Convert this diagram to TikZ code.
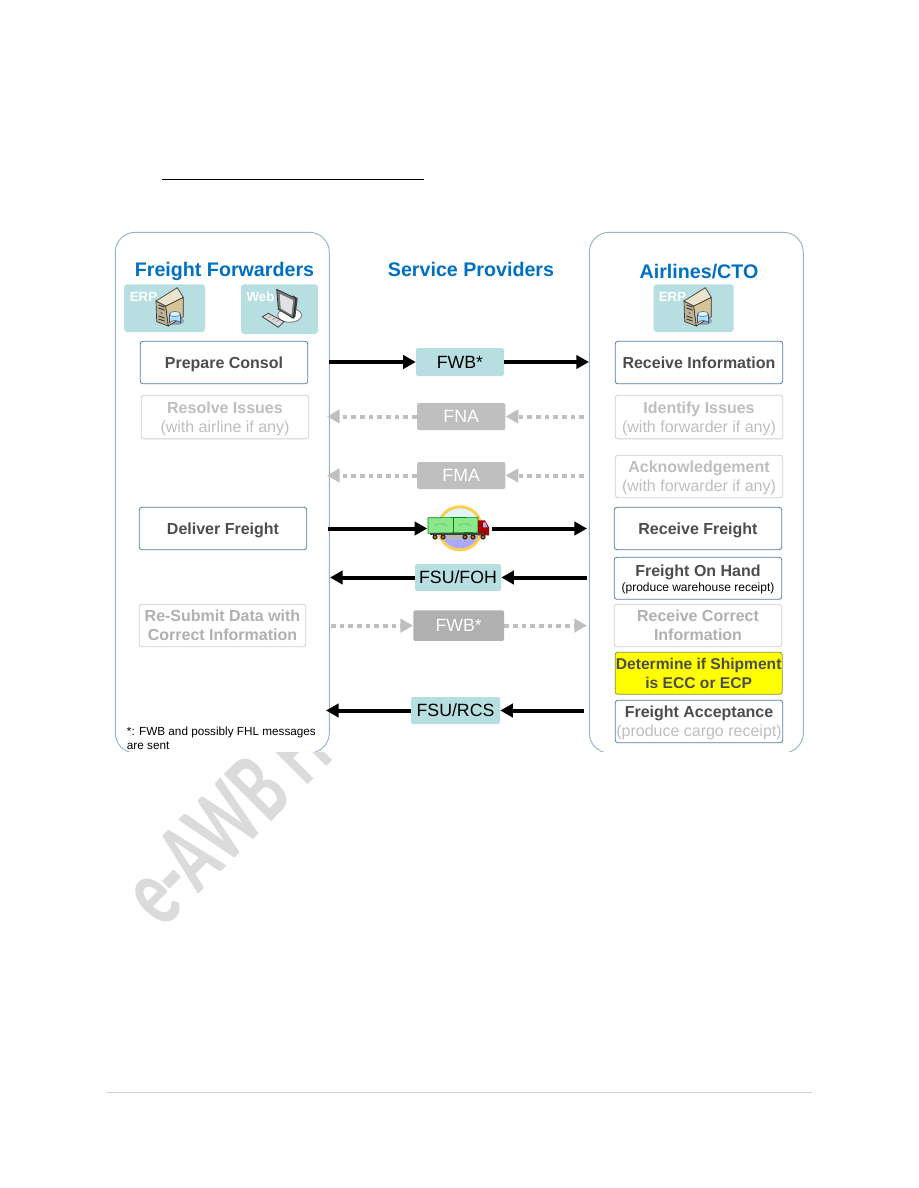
\documentclass[tikz,border=0pt]{standalone}
\usepackage{fontspec}
\setmainfont{Liberation Sans}
\newfontfamily\wmfont{Carlito}
\usetikzlibrary{arrows.meta}
\newlength{\pxlength}
\setlength{\pxlength}{0.75pt}
\definecolor{HeadBlue}{RGB}{0,112,192}
\definecolor{MsgTeal}{RGB}{183,223,226}
\definecolor{MsgGrey}{RGB}{191,191,191}
\definecolor{MsgDark}{RGB}{176,176,176}
\definecolor{BoxEdge}{RGB}{84,125,165}
\definecolor{BoxText}{RGB}{77,77,77}
\definecolor{OffEdge}{RGB}{208,208,208}
\definecolor{OffText}{RGB}{190,190,190}
\definecolor{PanelEdge}{RGB}{150,178,205}
\definecolor{HiYellow}{RGB}{255,255,0}
\definecolor{SrvTop}{RGB}{236,228,205}
\definecolor{SrvSide}{RGB}{214,196,150}
\definecolor{SrvFront}{RGB}{190,178,150}
\definecolor{TrkGreen}{RGB}{140,232,140}
\newcommand{\subtext}[1]{{\fontsize{12pt}{14.25pt}\selectfont\mdseries #1}}
\tikzset{
  pics/erpicon/.style={code={
    \fill[black!25!MsgTeal] (20,20) ellipse (8 and 4);
    \draw[black!80,fill=SrvFront,line width=0.5pt] (0,0) -- (9.7,5) -- (12.3,25) -- (0.7,20.7) -- cycle;
    \draw[black!80,fill=SrvSide,line width=0.5pt] (9.7,5) -- (27.3,-3.7) -- (27.3,15.7) -- (12.3,25) -- cycle;
    \draw[black!80,fill=SrvTop,line width=0.5pt] (0,0) -- (21.3,-13.3) -- (27.3,-3.7) -- (9.7,5) -- cycle;
    \foreach \y in {5,8,16,19} {
      \draw[black!75,line width=0.8pt] (2.5,\y-1) -- (8.5,\y+1);
    }
    \fill[black!70] (5.5,12) circle (0.9);
    \draw[blue!40!black!70,fill=blue!30!cyan!35,line width=0.4pt] (13.5,13) -- (13.5,22) arc[start angle=180,end angle=360,x radius=5.5,y radius=2.5] -- (24.5,13);
    \draw[blue!40!black!70,fill=blue!10!cyan!15,line width=0.4pt] (19,13) ellipse (5.5 and 2.5);
  }},
  pics/webicon/.style={code={
    \draw[black!50,fill=white,line width=0.7pt] (13,26) ellipse (12 and 7);
    \fill[black!75] (16,6) -- (21,9) -- (18.6,28) -- (15,29) -- cycle;
    \draw[black!85,fill=black!55,line width=0.5pt] (0,0) -- (19,9) -- (16.6,29) -- (1.6,20) -- cycle;
    \fill[blue!20!black!12] (3,4.5) -- (16.5,11) -- (14.8,25.5) -- (4,19) -- cycle;
    \draw[black!75,fill=black!15,line width=0.6pt] (-14.4,27.4) -- (-8.4,24) -- (7.3,32.4) -- (1.6,38) -- cycle;
    \foreach \t in {0.25,0.5,0.75} {
      \draw[black!45,line width=0.3pt] (-12.4+\t*15.7,26.3+\t*8.4) -- (-9.4+\t*15.7,24.6+\t*8.4);
    }
  }},
  pics/truckicon/.style={code={
    \fill[yellow!50!orange!70] (0,0) circle (23);
    \fill[cyan!12] (0,0) circle (20);
    \begin{scope}
      \clip (0,0) circle (20);
      \fill[black!28] (-20,5) rectangle (20,12);
      \fill[blue!40!white!85] (-20,12) rectangle (20,20);
    \end{scope}
    \fill[TrkGreen,draw=green!55!black,line width=0.5pt] (-32,-10.5) -- (18,-11) -- (18,4) -- (-32,5) -- cycle;
    \draw[green!55!black,line width=0.4pt] (-7,-10.7) -- (-7,4.5);
    \draw[green!60!black!70,line width=0.3pt] (-26,-2) arc[start angle=200,end angle=340,x radius=7,y radius=4];
    \draw[green!60!black!70,line width=0.3pt] (-2,-2) arc[start angle=200,end angle=340,x radius=7,y radius=4];
    \fill[red!65!black] (18,-8) -- (25,-8) -- (29,-1) -- (29,7) -- (18,7) -- cycle;
    \fill[blue!30!white] (23,-6) -- (25.5,-6) -- (27.5,-1) -- (23,-1) -- cycle;
    \fill[black!75] (-30,5) rectangle (24,7);
    \foreach \x in {-25,-17,5,13,23} {
      \fill[black!85] (\x,8.7) circle (2.6);
      \fill[orange!85!black] (\x,8.7) circle (1.3);
    }
  }},
  headtxt/.style={text=HeadBlue,font=\fontsize{14.75pt}{18pt}\selectfont\bfseries,inner sep=0pt,anchor=base},
  bxOn/.style n args={2}{draw=BoxEdge,fill=white,text=BoxText,line width=0.6pt,rounded corners=2.5\pxlength,
    minimum width=#1\pxlength,minimum height=#2\pxlength,inner sep=0pt,align=center,text depth=2.5pt,
    execute at begin node={\rule{0pt}{11pt}},font=\fontsize{12pt}{14.25pt}\selectfont\bfseries},
  bxOff/.style n args={2}{bxOn={#1}{#2},draw=OffEdge,text=OffText,text depth=0.3pt},
  msgOn/.style n args={2}{fill=MsgTeal,text=black,rounded corners=2\pxlength,minimum width=#1\pxlength,
    minimum height=#2\pxlength,inner sep=0pt,font=\fontsize{13.3pt}{16pt}\selectfont},
  msgOff/.style n args={2}{msgOn={#1}{#2},fill=MsgGrey,text=white},
  flowOn/.style={-{Triangle[length=9.5pt,width=10pt]},line width=3pt,black},
  flowOff/.style={-{Triangle[length=9.5pt,width=10pt]},line width=3pt,MsgGrey,
    dash pattern=on 3.5pt off 3pt},
  lane/.style={draw=PanelEdge,line width=0.7pt,rounded corners=20\pxlength},
  tile/.style={fill=MsgTeal,rounded corners=3\pxlength},
  tiletxt/.style={text=white,font=\fontsize{10pt}{12pt}\selectfont\bfseries,inner sep=0pt},
}
\begin{document}
\begin{tikzpicture}[x=1\pxlength,y=-1\pxlength]
    \useasboundingbox (0,0) rectangle (918,1188);
    % watermark sits under the figure
    \node[rotate=45,xscale=0.65,anchor=base west,text=black!14,inner sep=0pt,font=\wmfont\bfseries\fontsize{77pt}{80pt}\selectfont] (mark) at (162,931) {e-AWB Ha};
    \fill[white] (105,225) rectangle (812,752);
    \draw[line width=1.5\pxlength] (162,179.5) coordinate (ulA) -- (424,179.5) coordinate (ulB);
    \draw[black!18,line width=1\pxlength] (106,1092.3) coordinate (ftA) -- (812,1092.3) coordinate (ftB);
    % lanes
    \begin{scope}
       \clip (100,225) rectangle (815,751.8);
       \draw[lane] (115.3,232.3) rectangle (329.3,753);
       \draw[lane] (589.3,232.3) rectangle (803.3,753);
    \end{scope}
    \node[headtxt] (hFF) at (224.5,276.7) {Freight Forwarders};
    \node[headtxt] (hSP) at (471,276.7) {Service Providers};
    \node[headtxt] (hAL) at (699,278.3) {Airlines/CTO};
    % systems
    \fill[tile] (124,284.3) rectangle (205,332);
    \fill[tile] (241,284.3) rectangle (318,334);
    \fill[tile] (653.7,284.3) rectangle (733.7,332);
    \node[tiletxt] (erpA) at (143.5,297) {ERP};
    \node[tiletxt] (webA) at (260.5,297) {Web};
    \node[tiletxt] (erpB) at (672.5,297) {ERP};
    \pic at (156,301) {erpicon};
    \pic at (276.7,289.3) {webicon};
    \pic at (684,301) {erpicon};
    % forwarder side
    \node[bxOn={167.4}{42.4}] (prep) at (224,362.5) {Prepare Consol};
    \node[bxOff={167.4}{43.7}] (reso) at (225,417) {Resolve Issues\\\subtext{(with airline if any)}};
    \node[bxOn={167.4}{42.4}] (dlvr) at (223,528.5) {Deliver Freight};
    \node[bxOff={166.4}{42.4},text=MsgDark] (rsub) at (222.5,625.5) {Re-Submit Data with\\Correct Information};
    \node[anchor=north west,inner sep=0pt,align=left,font=\fontsize{8.8pt}{10.5pt}\selectfont] (note) at (126.7,727) {*: FWB and possibly FHL messages\\are sent};
    % airline side
    \node[bxOn={167.4}{42.4}] (rinf) at (699,362.5) {Receive Information};
    \node[bxOff={167.4}{43.7}] (iden) at (699,417) {Identify Issues\\\subtext{(with forwarder if any)}};
    \node[bxOff={167.4}{42.4}] (ackn) at (699,476.5) {Acknowledgement\\\subtext{(with forwarder if any)}};
    \node[bxOn={167.4}{42.4}] (rfrt) at (698,528.5) {Receive Freight};
    \node[bxOn={167.4}{42},text depth=-1.2pt] (hand) at (698,578.3) {Freight On Hand\\[-3pt]{\fontsize{9pt}{11pt}\selectfont\mdseries\color{black}(produce warehouse receipt)}};
    \node[bxOff={167.4}{42.4},text=MsgDark] (rcor) at (698,625.5) {Receive Correct\\Information};
    \node[bxOn={167}{42},fill=HiYellow,draw=black!35!HiYellow!60!BoxEdge,text depth=0.3pt,font=\fontsize{11.7pt}{14.25pt}\selectfont\bfseries] (ecc) at (698.7,673.3) {Determine if Shipment\\is ECC or ECP};
    \node[bxOn={167.4}{42.4},text depth=1pt] (acpt) at (699,721.5) {Freight Acceptance\\\subtext{\color{OffText}(produce cargo receipt)}};
    % messages
    \node[msgOn={87.7}{28}] (fwb) at (459.9,362) {FWB*};
    \node[msgOff={88.3}{27}] (fna) at (461.2,416.5) {FNA};
    \node[msgOff={88.3}{27}] (fma) at (461.2,475.5) {FMA};
    \node[minimum width=64\pxlength,minimum height=46\pxlength,inner sep=0pt] (truck) at (459.5,528.5) {};
    \pic at (460,528.3) {truckicon};
    \node[msgOn={86}{27}] (foh) at (458,577.5) {FSU/FOH};
    \node[msgOff={90.7}{30.7},fill=MsgDark] (fwbb) at (458.7,625.6) {FWB*};
    \node[msgOn={89}{27}] (rcs) at (455.5,710.5) {FSU/RCS};
    % free ends on the lanes
    \coordinate (pA) at (329,362);   \coordinate (aA) at (589,362);
    \coordinate (pB) at (327,416.5); \coordinate (aB) at (584,416.5);
    \coordinate (pC) at (327,475.5); \coordinate (aC) at (584,475.5);
    \coordinate (pD) at (328,528.5); \coordinate (aD) at (587,528.5);
    \coordinate (pE) at (330,577.5); \coordinate (aE) at (587,577.5);
    \coordinate (pF) at (331,625.6); \coordinate (aF) at (587,625.6);
    \coordinate (pG) at (326,710.5); \coordinate (aG) at (584,710.5);
    \foreach \a/\b in {pA/fwb.west,fwb.east/aA,pD/truck.west,truck.east/aD,aE/foh.east,foh.west/pE,aG/rcs.east,rcs.west/pG} {
       \draw[flowOn] (\a) -- (\b);
    }
    \foreach \a/\b in {aB/fna.east,fna.west/pB,aC/fma.east,fma.west/pC,pF/fwbb.west,fwbb.east/aF} {
       \draw[flowOff] (\a) -- (\b);
    }
\end{tikzpicture}
\end{document}
